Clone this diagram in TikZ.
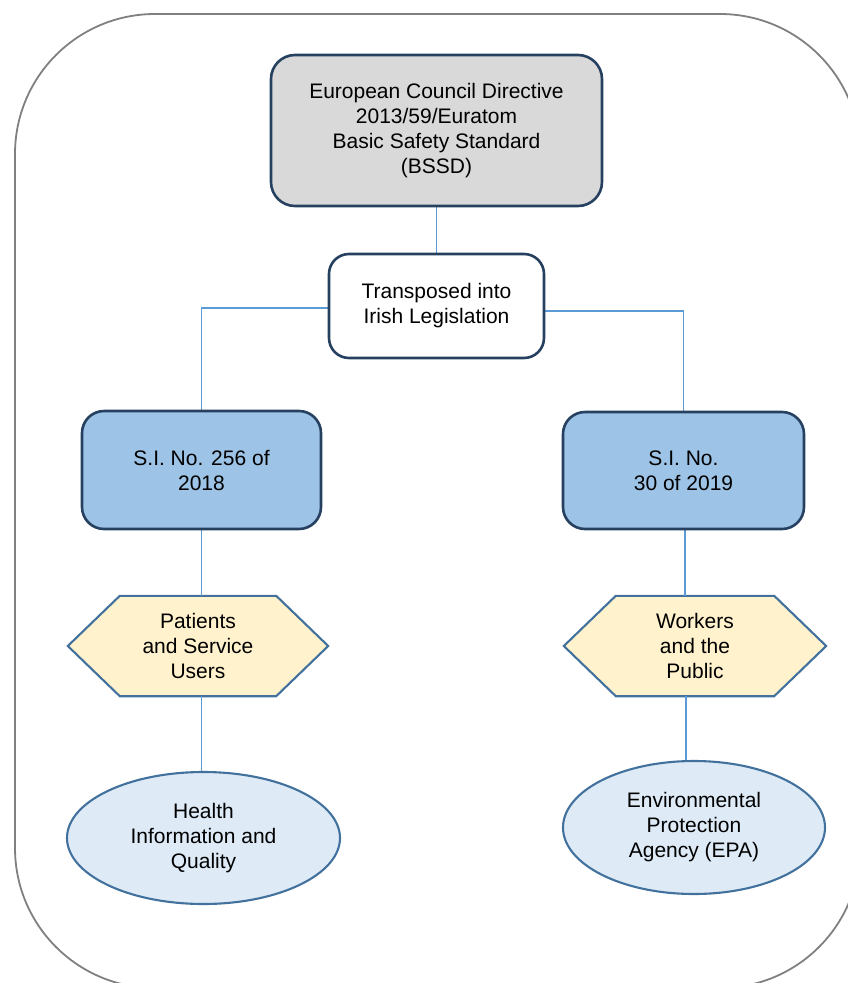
\documentclass[tikz,border=0pt]{standalone}
\usepackage{fontspec}
\setmainfont{Liberation Sans}
\usetikzlibrary{shapes.geometric}
\pgfdeclarelayer{background}
\pgfsetlayers{background,main}
\definecolor{navy}{HTML}{264060}
\definecolor{grayfill}{HTML}{D9D9D9}
\definecolor{bluefill}{HTML}{9DC3E6}
\definecolor{hexfill}{HTML}{FFF2CC}
\definecolor{steel}{HTML}{41719C}
\definecolor{ellfill}{HTML}{DEEBF7}
\definecolor{conn}{HTML}{5B9BD5}
\definecolor{framecol}{HTML}{808080}
\tikzset{
  lbl/.style={align=center, font=\fontsize{21}{25}\selectfont, inner sep=0pt},
  rbox/.style={lbl, draw=navy, line width=2.6pt, rectangle, rounded corners=24pt},
  hexnode/.style={lbl, rectangle, minimum width=260pt, minimum height=100pt},
  hexshape/.style={draw=steel, fill=hexfill, line width=2.1pt, line join=miter},
  ell/.style={lbl, ellipse, draw=steel, fill=ellfill, line width=2.1pt},
  link/.style={draw=conn, line width=1.9pt},
  frame/.style={draw=framecol, line width=1.8pt, rounded corners=140pt}
}
\begin{document}
\begin{tikzpicture}[x=1pt,y=-1pt]
\useasboundingbox (0,0) rectangle (848,983);
\begin{scope}
  \clip (0,0) rectangle (848,983);
  \draw[frame] (15,14) rectangle (860,988);
\end{scope}

\node[rbox, fill=grayfill, minimum width=331pt, minimum height=151pt] (top) at (436.5,130.5)
  {European Council Directive\\2013/59/Euratom\\Basic Safety Standard\\(BSSD)};
\node[rbox, fill=white, minimum width=215pt, minimum height=104pt, rounded corners=20pt] (trans) at (436.5,306)
  {Transposed into\\Irish Legislation};
\node[rbox, fill=bluefill, minimum width=239pt, minimum height=118pt, rounded corners=22pt] (si1) at (201.5,470)
  {S.I. No. 256 of\\2018};
\node[rbox, fill=bluefill, minimum width=241pt, minimum height=117pt, rounded corners=22pt] (si2) at (683.5,470.5)
  {S.I. No.\\30 of 2019};
\node[hexnode] (h1) at (198,646) {Patients\\and Service\\Users};
\node[hexnode, minimum width=262pt] (h2) at (695,646) {Workers\\and the\\Public};
\node[ell, minimum width=273pt, minimum height=132pt] (e1) at (203.5,838)
  {Health\\Information and\\Quality};
\node[ell, minimum width=262pt, minimum height=133pt] (e2) at (694,827.5)
  {Environmental\\Protection\\Agency (EPA)};

\begin{pgfonlayer}{background}
  \draw[hexshape] (h1.west) -- ([xshift=52pt]h1.north west) -- ([xshift=-52pt]h1.north east)
    -- (h1.east) -- ([xshift=-52pt]h1.south east) -- ([xshift=52pt]h1.south west) -- cycle;
  \draw[hexshape] (h2.west) -- ([xshift=52pt]h2.north west) -- ([xshift=-52pt]h2.north east)
    -- (h2.east) -- ([xshift=-52pt]h2.south east) -- ([xshift=52pt]h2.south west) -- cycle;
  \draw[link] (top.south) -- (trans.north);
  \draw[link] ([yshift=-2pt]trans.west) -| (si1.north);
  \draw[link] ([yshift=-5pt]trans.east) -| (si2.north);
  \draw[link] (si1.south) -- (si1.south |- h1.north);
  \draw[link] (si1.south |- h1.south) -- (si1.south |- e1.north);
  \draw[link] ([xshift=1.5pt]si2.south) -- ([xshift=1.5pt]si2.south |- h2.north);
  \draw[link] ([xshift=2.5pt]si2.south |- h2.south) -- ([xshift=2.5pt]si2.south |- e2.north);
\end{pgfonlayer}
\end{tikzpicture}
\end{document}
